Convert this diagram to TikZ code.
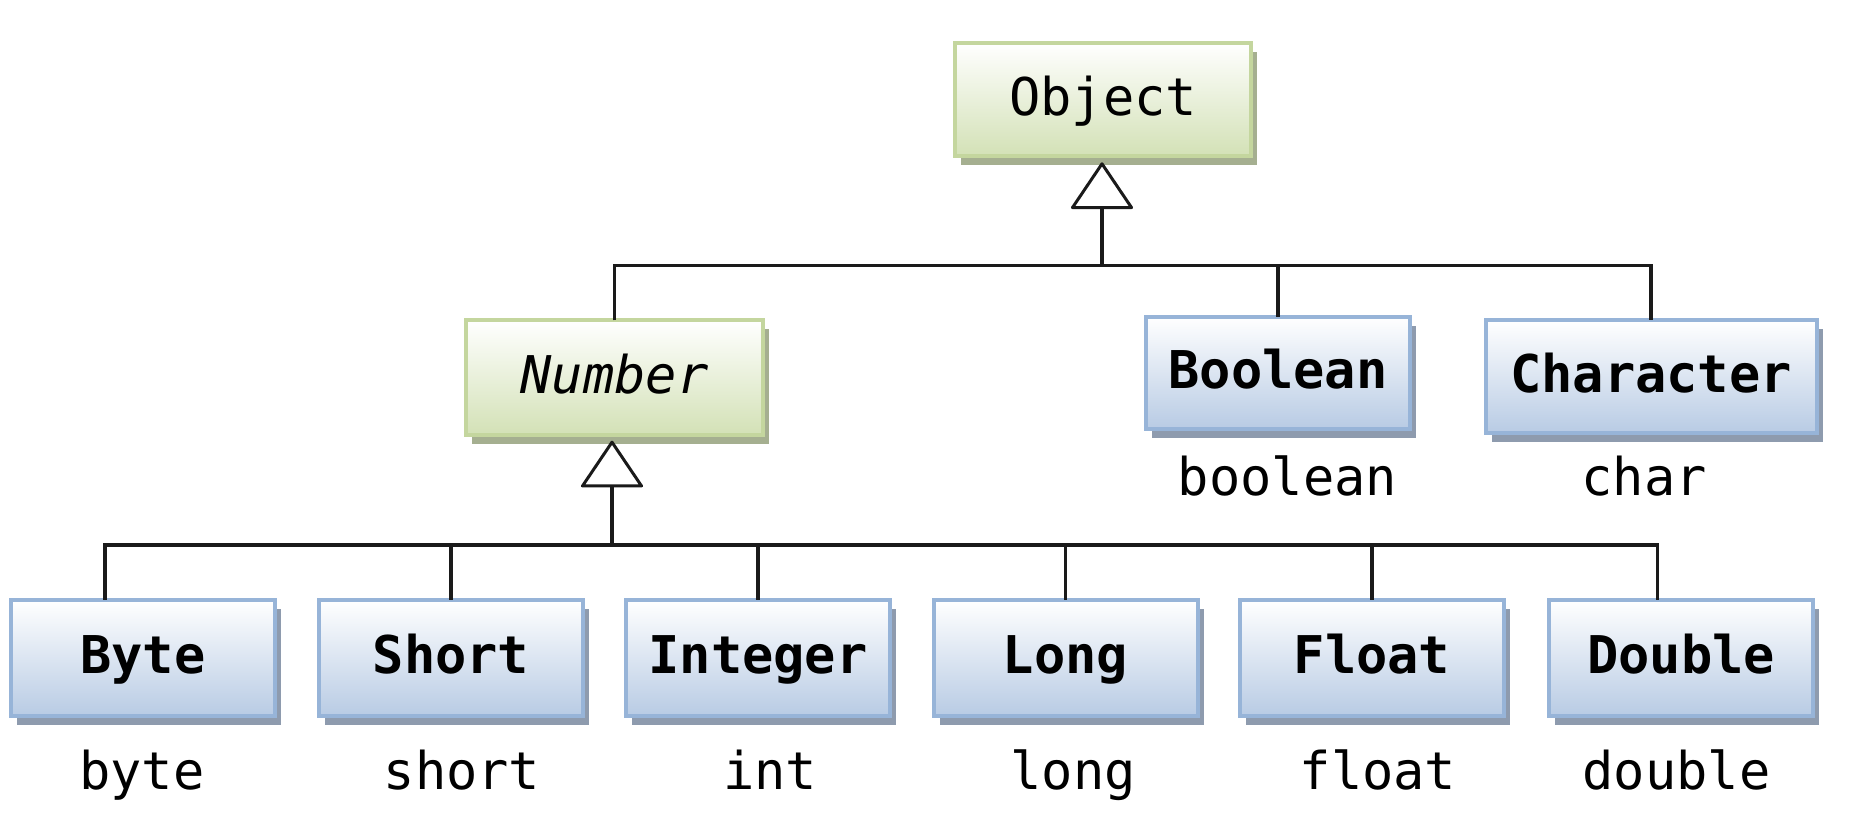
\documentclass[tikz,border=0pt]{standalone}
\usepackage{fontspec}
\setmonofont{DejaVu Sans Mono}
\usetikzlibrary{arrows.meta,shadows}
\definecolor{gBorder}{HTML}{C4D69E}
\definecolor{gMid}{HTML}{EAF0DD}
\definecolor{gBottom}{HTML}{D3E1B6}
\definecolor{gShadow}{HTML}{A5AF90}
\definecolor{bBorder}{HTML}{97B4D8}
\definecolor{bMid}{HTML}{DCE6F2}
\definecolor{bBottom}{HTML}{B8CBE4}
\definecolor{bShadow}{HTML}{8E9BAE}
\definecolor{lineCol}{HTML}{1A1A1A}
\begin{document}
\begin{tikzpicture}[x=1pt,y=1pt,
  txt/.style={font=\ttfamily\fontsize{52}{60}\selectfont},
  basebox/.style={txt, rectangle, inner sep=0pt, outer sep=0pt, line width=4pt,
    text height=32pt, text depth=0pt},
  greenbox/.style={basebox, draw=gBorder, top color=white, middle color=gMid, bottom color=gBottom,
    drop shadow={shadow xshift=6pt, shadow yshift=-9pt, fill=gShadow, opacity=1}},
  bluebox/.style={basebox, draw=bBorder, top color=white, middle color=bMid, bottom color=bBottom,
    font=\ttfamily\bfseries\fontsize{52}{60}\selectfont,
    drop shadow={shadow xshift=6pt, shadow yshift=-9pt, fill=bShadow, opacity=1}},
  lowbox/.style={bluebox, minimum width=264pt, minimum height=116pt},
  prim/.style={txt, anchor=base, inner sep=0pt},
  conn/.style={draw=lineCol, line width=3.3pt},
  inherit/.style={conn, -{Triangle[open, round, length=48pt, width=64pt, line width=3pt]}, shorten >=6pt}
]
\useasboundingbox (0,0) rectangle (1858,817);

% nodes
\node[greenbox, minimum width=296pt, minimum height=113.6pt] (object) at (1103,717.5) {Object};
\node[greenbox, minimum width=297pt, minimum height=114.4pt,
      font=\ttfamily\itshape\fontsize{52}{60}\selectfont] (number) at (614.5,439.5) {Number};
\node[bluebox, minimum width=264pt, minimum height=112pt] (boolean) at (1278,444.4) {Boolean};
\node[bluebox, minimum width=331pt, minimum height=112.7pt] (character) at (1651,440.3) {Character};

\node[lowbox] (byte)    at (143,159)    {Byte};
\node[lowbox] (short)   at (451,159)    {Short};
\node[lowbox] (integer) at (758,159)    {Integer};
\node[lowbox] (long)    at (1065.5,159) {Long};
\node[lowbox] (float)   at (1372,159)   {Float};
\node[lowbox] (double)  at (1681,159)   {Double};

% primitive labels
\node[prim] (lboolean) at (1287.5,321) {boolean};
\node[prim] (lchar)    at (1644,321)   {char};
\node[prim] (lbyte)    at (142,28)     {byte};
\node[prim] (lshort)   at (462,28)     {short};
\node[prim] (lint)     at (770,28)     {int};
\node[prim] (llong)    at (1073,28)    {long};
\node[prim] (lfloat)   at (1378,28)    {float};
\node[prim] (ldouble)  at (1676.5,28)  {double};

% top hierarchy
\coordinate (topbus) at (1102,551.3);
\draw[conn] (number.north) -- (number.north |- topbus) -- (character.north |- topbus) -- (character.north);
\draw[conn] (boolean.north) -- (boolean.north |- topbus);
\draw[inherit] (topbus) -- (topbus |- object.south);

% bottom hierarchy
\coordinate (lowbus) at (612,272);
\coordinate (byteTop) at ([xshift=-38pt]byte.north);
\coordinate (doubleTop) at ([xshift=-23.5pt]double.north);
\draw[conn] (byteTop) -- (byteTop |- lowbus) -- (doubleTop |- lowbus) -- (doubleTop);
\draw[conn] (short.north) -- (short.north |- lowbus);
\draw[conn] (integer.north) -- (integer.north |- lowbus);
\draw[conn] (long.north) -- (long.north |- lowbus);
\draw[conn] (float.north) -- (float.north |- lowbus);
\draw[inherit] (lowbus) -- (lowbus |- number.south);
\end{tikzpicture}
\end{document}
